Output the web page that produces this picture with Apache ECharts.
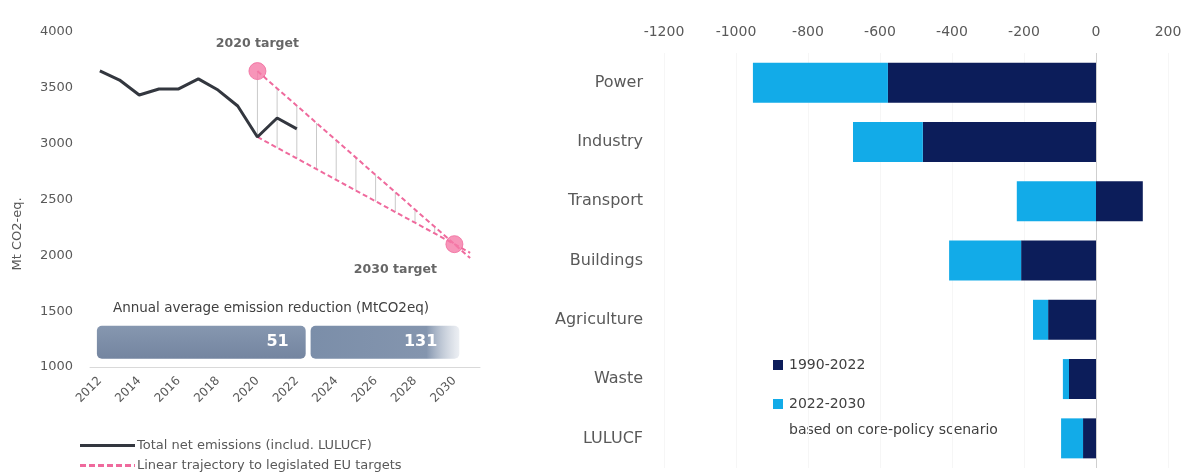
<!DOCTYPE html>
<html>
<head>
<meta charset="utf-8">
<script src="https://cdn.jsdelivr.net/npm/echarts@6/dist/echarts.min.js"></script>
<style>
html,body{margin:0;padding:0;background:#fff;}
#chart{width:1186px;height:475px;}
</style>
</head>
<body>
<div id="chart"></div>
<script>
// ---- Left panel data ----
const years = [2012, 2013, 2014, 2015, 2016, 2017, 2018, 2019, 2020, 2021, 2022];
const netEmissions = [3651, 3570, 3436, 3490, 3490, 3580, 3480, 3337, 3060, 3230, 3132];
const trajYears = [2020, 2021, 2022, 2023, 2024, 2025, 2026, 2027, 2028, 2029, 2030];
const trajUpper = [3650, 3495, 3340, 3185, 3030, 2875, 2720, 2565, 2410, 2255, 2100];
const trajLower = [3060, 2964, 2868, 2772, 2676, 2580, 2484, 2388, 2292, 2196, 2100];
const trajTailYear = 2030.8;
const trajTailUpper = 1976;
const trajTailLower = 2023;
const targetYears = [2020, 2030];
const targetValues = [3650, 2100];
const targetLabels = ['2020 target', '2030 target'];
const yearTicks = [2012, 2014, 2016, 2018, 2020, 2022, 2024, 2026, 2028, 2030];
const reductionValues = [51, 131];
const reductionStart = [2011.85, 2022.7];
const reductionEnd = [2022.45, 2030.25];
const reductionLow = 1075;
const reductionHigh = 1370;

// ---- Right panel data ----
const sectors = ['Power', 'Industry', 'Transport', 'Buildings', 'Agriculture', 'Waste', 'LULUCF'];
const change1990_2022 = [-578, -481, 130, -208, -133, -75, -36];
const change2022_2030 = [-375, -194, -220, -200, -42, -17, -61];

const FONT = '"DejaVu Sans", "Open Sans", sans-serif';
const GRAY = '#595959';
const PINK = '#ef6a9d';
const DARK = '#0c1d5a';
const LIGHT = '#12abe8';
const LINE = '#33373f';
const NAME_LINE = 'Total net emissions (includ. LULUCF)';
const NAME_TRAJ = 'Linear trajectory to legislated EU targets';

const lineData = years.map((y, i) => [y, netEmissions[i]]);
const upperData = trajYears.map((y, i) => [y, trajUpper[i]]).concat([[trajTailYear, trajTailUpper]]);
const lowerData = trajYears.map((y, i) => [y, trajLower[i]]).concat([[trajTailYear, trajTailLower]]);
const vertData = trajYears.slice(0, 10).map((y, i) => [y, trajUpper[i], trajLower[i]]);
const targetData = targetYears.map((y, i) => [y, targetValues[i]]);
const reductionData = reductionValues.map((v, i) => [reductionStart[i], reductionEnd[i], reductionLow, reductionHigh, v]);

const plain = v => String(v);

const chart = echarts.init(document.getElementById('chart'), null, {renderer: 'canvas'});

const option = {
  animation: false,
  textStyle: {fontFamily: FONT},
  grid: [
    {left: 90, top: 32, width: 390, height: 335},
    {left: 664, top: 53, right: 18, height: 415}
  ],
  xAxis: [
    {
      gridIndex: 0, type: 'value', min: 2011.5, max: 2031.3,
      axisLine: {show: true, lineStyle: {color: '#d9d9d9', width: 1}},
      axisTick: {show: false},
      splitLine: {show: false},
      axisLabel: {
        customValues: yearTicks, rotate: 45, margin: 12,
        color: GRAY, fontSize: 12, fontFamily: FONT, formatter: plain
      }
    },
    {
      gridIndex: 1, type: 'value', position: 'top', min: -1200, max: 200, interval: 200,
      axisLine: {show: false},
      axisTick: {show: false},
      axisLabel: {color: GRAY, fontSize: 14, fontFamily: FONT, margin: 14, formatter: plain},
      splitLine: {
        show: true,
        lineStyle: {
          color: ['#f6f6f6', '#f6f6f6', '#f6f6f6', '#f6f6f6', '#f6f6f6', '#f6f6f6', '#cfcfcf', '#f6f6f6'],
          width: 1
        }
      }
    }
  ],
  yAxis: [
    {
      gridIndex: 0, type: 'value', min: 1000, max: 4000, interval: 500,
      axisLine: {show: false}, axisTick: {show: false}, splitLine: {show: false},
      axisLabel: {color: GRAY, fontSize: 13, fontFamily: FONT, margin: 17, formatter: plain}
    },
    {
      gridIndex: 1, type: 'category', data: sectors, inverse: true,
      axisLine: {show: false}, axisTick: {show: false},
      axisLabel: {color: GRAY, fontSize: 16, fontFamily: FONT, margin: 21}
    }
  ],
  legend: [
    {
      data: [{name: NAME_LINE, icon: 'path://M0,0H55V3H0Z'}],
      left: 80, top: 439, padding: 0, itemWidth: 55, itemHeight: 3, itemGap: 0,
      textStyle: {color: GRAY, fontSize: 13, fontFamily: FONT, padding: [0, 0, 0, -3]},
      selectedMode: false
    },
    {
      data: [{name: NAME_TRAJ, icon: 'path://M0,0H6V3H0Z M9,0H15V3H9Z M18,0H24V3H18Z M27,0H33V3H27Z M36,0H42V3H36Z M45,0H51V3H45Z M54,0H55V3H54Z'}],
      left: 80, top: 459, padding: 0, itemWidth: 55, itemHeight: 3, itemGap: 0,
      textStyle: {color: GRAY, fontSize: 13, fontFamily: FONT, padding: [0, 0, 0, -3]},
      selectedMode: false
    },
    {
      data: ['1990-2022', '2022-2030'],
      orient: 'vertical', left: 768, top: 353, itemWidth: 10, itemHeight: 10, itemGap: 25,
      icon: 'rect',
      textStyle: {color: '#404040', fontSize: 14, fontFamily: FONT, padding: [0, 0, 0, 1]},
      selectedMode: false
    }
  ],
  graphic: [
    {
      type: 'text', left: 789, top: 423,
      style: {text: 'based on core-policy scenario', fill: '#404040', font: '14px ' + FONT}
    },
    {
      type: 'text', x: 271, y: 308,
      style: {text: 'Annual average emission reduction (MtCO2eq)', fill: '#404040', font: '13.5px ' + FONT, align: 'center', verticalAlign: 'middle'}
    },
    {
      type: 'text', x: 18, y: 234, rotation: Math.PI / 2,
      style: {text: 'Mt CO2-eq.', fill: GRAY, font: '13px ' + FONT, align: 'center', verticalAlign: 'middle'}
    }
  ],
  series: [
    {
      name: 'gapLines', type: 'custom', xAxisIndex: 0, yAxisIndex: 0, z: 1,
      data: vertData, encode: {x: 0, y: [1, 2]},
      renderItem: function (params, api) {
        const p1 = api.coord([api.value(0), api.value(1)]);
        const p2 = api.coord([api.value(0), api.value(2)]);
        return {type: 'line', shape: {x1: p1[0], y1: p1[1], x2: p2[0], y2: p2[1]}, style: {stroke: '#c9c9c9', lineWidth: 1}};
      }
    },
    {
      name: NAME_TRAJ, type: 'line', xAxisIndex: 0, yAxisIndex: 0,
      data: upperData, symbol: 'none', z: 2,
      lineStyle: {color: PINK, width: 2, type: [5, 3]}, itemStyle: {color: PINK}
    },
    {
      name: NAME_TRAJ, type: 'line', xAxisIndex: 0, yAxisIndex: 0,
      data: lowerData, symbol: 'none', z: 2,
      lineStyle: {color: PINK, width: 2, type: [5, 3]}, itemStyle: {color: PINK}
    },
    {
      name: NAME_LINE, type: 'line', xAxisIndex: 0, yAxisIndex: 0,
      data: lineData, symbol: 'none', z: 3,
      lineStyle: {color: LINE, width: 3}, itemStyle: {color: LINE}
    },
    {
      name: 'targets', type: 'scatter', xAxisIndex: 0, yAxisIndex: 0, z: 4,
      data: targetData, symbolSize: 17,
      itemStyle: {color: '#f57aa8', borderColor: '#f06a9c', borderWidth: 1},
      label: {
        show: true, fontFamily: FONT, fontSize: 12.5, fontWeight: 'bold', color: '#404040',
        formatter: p => targetLabels[p.dataIndex]
      },
      labelLayout: function (params) {
        if (params.dataIndex === 0) {
          return {x: params.rect.x + params.rect.width / 2, y: params.rect.y - 18, align: 'center', verticalAlign: 'middle'};
        }
        return {x: params.rect.x - 50, y: params.rect.y + 35, align: 'center', verticalAlign: 'middle'};
      }
    },
    {
      name: 'reduction', type: 'custom', xAxisIndex: 0, yAxisIndex: 0, z: 5,
      data: reductionData, encode: {x: [0, 1], y: [2, 3]},
      renderItem: function (params, api) {
        const tl = api.coord([api.value(0), api.value(3)]);
        const br = api.coord([api.value(1), api.value(2)]);
        const last = params.dataIndex === 1;
        const fill = last
          ? new echarts.graphic.LinearGradient(0, 0, 1, 0, [
              {offset: 0, color: '#7b8ea9'}, {offset: 0.78, color: '#8495ae'}, {offset: 1, color: 'rgba(200,208,220,0.35)'}])
          : new echarts.graphic.LinearGradient(0, 0, 0, 1, [
              {offset: 0, color: '#8697b0'}, {offset: 1, color: '#7485a0'}]);
        const inset = last ? 22 : 17;
        return {
          type: 'group',
          children: [
            {type: 'rect', shape: {x: tl[0], y: tl[1], width: br[0] - tl[0], height: br[1] - tl[1], r: 5}, style: {fill: fill}},
            {type: 'text', style: {
              text: String(api.value(4)), x: br[0] - inset, y: (tl[1] + br[1]) / 2,
              align: 'right', verticalAlign: 'middle', fill: '#ffffff',
              font: 'bold 16px ' + FONT
            }}
          ]
        };
      }
    },
    {
      name: '1990-2022', type: 'bar', xAxisIndex: 1, yAxisIndex: 1, stack: 'chg',
      data: change1990_2022, barWidth: 40, itemStyle: {color: DARK}
    },
    {
      name: '2022-2030', type: 'bar', xAxisIndex: 1, yAxisIndex: 1, stack: 'chg',
      data: change2022_2030, barWidth: 40, itemStyle: {color: LIGHT}
    }
  ]
};
chart.setOption(option);
</script>
</body>
</html>
